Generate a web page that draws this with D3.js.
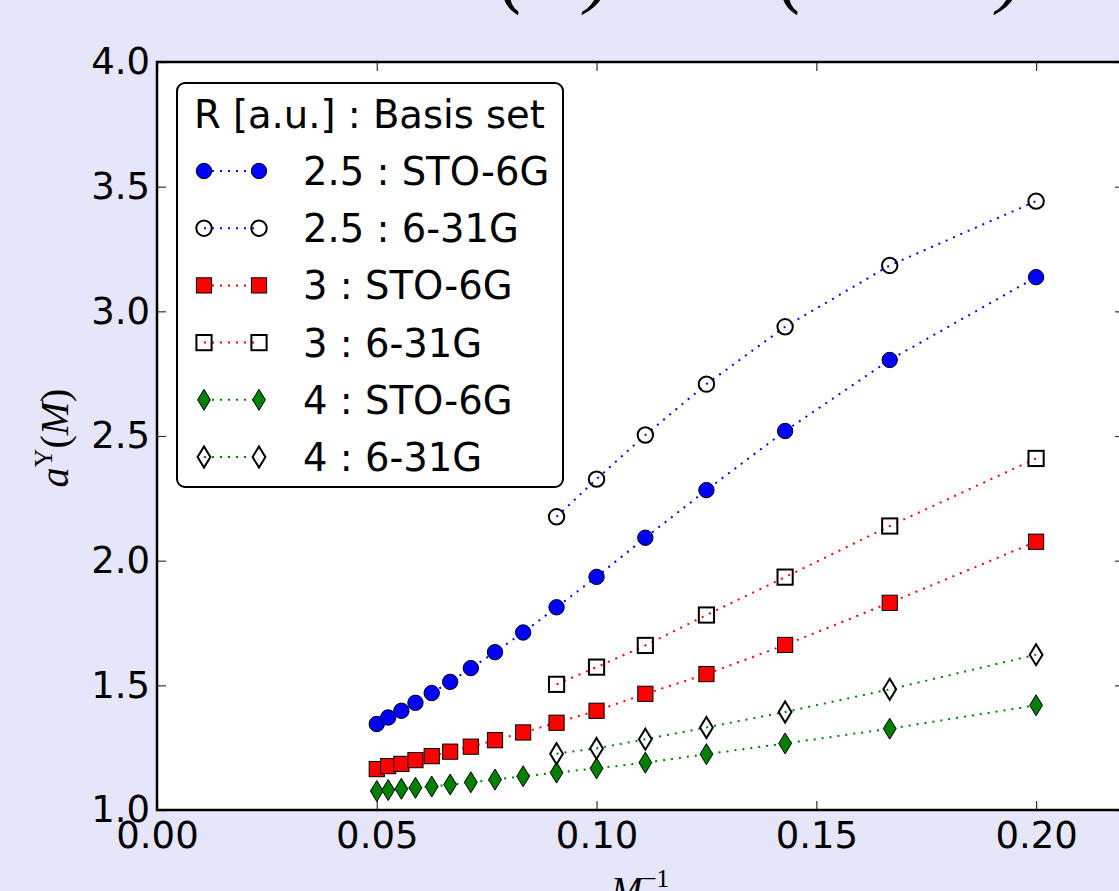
<!DOCTYPE html>
<html>
<head>
<meta charset="utf-8">
<script src="https://cdn.jsdelivr.net/npm/d3@7"></script>
<style>
  body { margin: 0; background: #e6e6fa; }
  svg { display: block; }
</style>
</head>
<body>
<svg id="chart" width="1119" height="891"></svg>
<script>
// Define SVG dimensions
const width = 1119;
const height = 891;

// x values: M^-1 for M = 20 ... 5 (long runs) and M = 11 ... 5 (short runs)
const invMLong = [0.0500, 0.0526, 0.0556, 0.0588, 0.0625, 0.0667, 0.0714, 0.0769,
                  0.0833, 0.0909, 0.1000, 0.1111, 0.1250, 0.1429, 0.1667, 0.2000];
const invMShort = [0.0909, 0.1000, 0.1111, 0.1250, 0.1429, 0.1667, 0.2000];

// a^Y(M) values
const r25Sto6g = [1.345, 1.371, 1.398, 1.430, 1.469, 1.514, 1.569, 1.633,
                  1.712, 1.813, 1.935, 2.092, 2.283, 2.520, 2.805, 3.137];
const r25631g = [2.176, 2.327, 2.504, 2.708, 2.938, 3.184, 3.442];
const r3Sto6g = [1.164, 1.176, 1.185, 1.200, 1.216, 1.234, 1.254, 1.280,
                 1.311, 1.350, 1.398, 1.466, 1.545, 1.662, 1.831, 2.076];
const r3631g = [1.504, 1.573, 1.660, 1.782, 1.934, 2.139, 2.410];
const r4Sto6g = [1.076, 1.080, 1.085, 1.089, 1.094, 1.102, 1.111, 1.122,
                 1.135, 1.150, 1.167, 1.190, 1.224, 1.267, 1.326, 1.420];
const r4631g = [1.226, 1.247, 1.284, 1.331, 1.393, 1.484, 1.623];

const seriesLabels = ["2.5 : STO-6G", "2.5 : 6-31G", "3 : STO-6G", "3 : 6-31G", "4 : STO-6G", "4 : 6-31G"];
const legendTitle = "R [a.u.] : Basis set";
const xTicks = [0.00, 0.05, 0.10, 0.15, 0.20];
const yTicks = [1.0, 1.5, 2.0, 2.5, 3.0, 3.5, 4.0];

// series table built from the arrays above
const series = [
  { label: seriesLabels[0], xs: invMLong, ys: r25Sto6g, color: "#0000ff", marker: "circle", open: false },
  { label: seriesLabels[1], xs: invMShort, ys: r25631g, color: "#0000ff", marker: "circle", open: true },
  { label: seriesLabels[2], xs: invMLong, ys: r3Sto6g, color: "#ff0000", marker: "square", open: false },
  { label: seriesLabels[3], xs: invMShort, ys: r3631g, color: "#ff0000", marker: "square", open: true },
  { label: seriesLabels[4], xs: invMLong, ys: r4Sto6g, color: "#008000", marker: "diamond", open: false },
  { label: seriesLabels[5], xs: invMShort, ys: r4631g, color: "#008000", marker: "diamond", open: true }
];

const svg = d3.select("#chart");

// scales
const x = d3.scaleLinear().domain([0, 0.22]).range([157, 1124]);
const y = d3.scaleLinear().domain([1, 4]).range([810, 62]);

// title (cut off by the top of the frame, only paren tails show)
const title = svg.append("text")
  .attr("y", -2)
  .style("font-family", "'Liberation Serif', serif")
  .style("font-style", "italic")
  .style("font-size", "80px")
  .attr("fill", "#000");
title.append("tspan").attr("x", 495).attr("text-anchor", "end").text("a");
title.append("tspan").attr("x", 500).attr("textLength", 112).attr("lengthAdjust", "spacing").text("(M)");
title.append("tspan").attr("x", 640).text("vs.");
title.append("tspan").attr("x", 779).attr("textLength", 245).attr("lengthAdjust", "spacing").text("(M → ∞)");

// plot background
svg.append("rect")
  .attr("x", x(0))
  .attr("y", y(4))
  .attr("width", x(0.22) - x(0))
  .attr("height", y(1) - y(4))
  .attr("fill", "#ffffff");

// axes
const fontSans = "'DejaVu Sans', sans-serif";

const xAxis = svg.append("g")
  .attr("transform", `translate(0,${y(1)})`)
  .call(d3.axisBottom(x).tickValues(xTicks).tickFormat(d3.format(".2f"))
    .tickSizeInner(-9).tickSizeOuter(0).tickPadding(12));

const xAxisTop = svg.append("g")
  .attr("transform", `translate(0,${y(4)})`)
  .call(d3.axisTop(x).tickValues(xTicks).tickFormat("")
    .tickSizeInner(-9).tickSizeOuter(0));

const yAxis = svg.append("g")
  .attr("transform", `translate(${x(0)},0)`)
  .call(d3.axisLeft(y).tickValues(yTicks).tickFormat(d3.format(".1f"))
    .tickSizeInner(-9).tickSizeOuter(0).tickPadding(7));

const yAxisRight = svg.append("g")
  .attr("transform", `translate(${x(0.22)},0)`)
  .call(d3.axisRight(y).tickValues(yTicks).tickFormat("")
    .tickSizeInner(-9).tickSizeOuter(0));

[xAxis, xAxisTop, yAxis, yAxisRight].forEach(g => {
  g.select(".domain").remove();
  g.selectAll(".tick line").attr("stroke", "#333").attr("stroke-width", 1.2);
  g.selectAll(".tick text")
    .attr("fill", "#000")
    .style("font-family", fontSans)
    .style("font-size", "37px");
});

// marker helper
function drawMarker(g, s) {
  const fill = s.open ? "none" : s.color;
  const sw = s.open ? 2 : 1;
  if (s.marker === "circle") {
    g.append("circle").attr("r", 7.7)
      .attr("fill", fill).attr("stroke", "#000").attr("stroke-width", sw);
  } else if (s.marker === "square") {
    g.append("rect").attr("x", -7.6).attr("y", -7.6).attr("width", 15.2).attr("height", 15.2)
      .attr("fill", fill).attr("stroke", "#000").attr("stroke-width", sw);
  } else {
    g.append("path").attr("d", "M0,-10.5L6.4,0L0,10.5L-6.4,0Z")
      .attr("fill", fill).attr("stroke", "#000").attr("stroke-width", sw);
  }
}

// data series
const line = d3.line()
  .x(d => x(d[0]))
  .y(d => y(d[1]));

series.forEach(s => {
  const pts = s.xs.map((v, i) => [v, s.ys[i]]);
  const g = svg.append("g").attr("class", "series");
  g.append("path")
    .datum(pts)
    .attr("d", line)
    .attr("fill", "none")
    .attr("stroke", s.color)
    .attr("stroke-width", 2)
    .attr("stroke-dasharray", "2,6");
  g.selectAll(".pt")
    .data(pts)
    .enter()
    .append("g")
    .attr("class", "pt")
    .attr("transform", d => `translate(${x(d[0])},${y(d[1])})`)
    .each(function () { drawMarker(d3.select(this), s); });
});

// spines
svg.append("rect")
  .attr("x", x(0))
  .attr("y", y(4))
  .attr("width", x(0.22) - x(0))
  .attr("height", y(1) - y(4))
  .attr("fill", "none")
  .attr("stroke", "#000")
  .attr("stroke-width", 2.5);

// axis labels
const yLabel = svg.append("text")
  .attr("transform", "translate(68,438) rotate(-90)")
  .attr("text-anchor", "middle")
  .style("font-family", "'Liberation Serif', serif")
  .style("font-size", "40px")
  .attr("fill", "#000");
yLabel.append("tspan").style("font-style", "italic").text("a");
yLabel.append("tspan").attr("dy", -16).style("font-size", "26px").text("Υ");
yLabel.append("tspan").attr("dy", 16).text("(");
yLabel.append("tspan").style("font-style", "italic").text("M");
yLabel.append("tspan").text(")");

const xLabel = svg.append("text")
  .attr("x", 640)
  .attr("y", 903)
  .attr("text-anchor", "middle")
  .style("font-family", "'Liberation Serif', serif")
  .style("font-size", "38px")
  .attr("fill", "#000");
xLabel.append("tspan").style("font-style", "italic").text("M");
xLabel.append("tspan").attr("dy", -16).style("font-size", "25px").text("−1");

// legend
const legend = svg.append("g").attr("class", "legend");
legend.append("rect")
  .attr("x", 177).attr("y", 83)
  .attr("width", 386).attr("height", 404)
  .attr("rx", 8)
  .attr("fill", "#fff")
  .attr("stroke", "#000")
  .attr("stroke-width", 2);
legend.append("text")
  .attr("x", 194).attr("y", 128)
  .style("font-family", fontSans)
  .style("font-size", "38.5px")
  .attr("fill", "#000")
  .text(legendTitle);

series.forEach((s, i) => {
  const cy = 171 + i * 57.2;
  const row = legend.append("g").attr("transform", `translate(0,${cy})`);
  row.append("line")
    .attr("x1", 204).attr("x2", 259)
    .attr("stroke", s.color)
    .attr("stroke-width", 2)
    .attr("stroke-dasharray", "2,6");
  drawMarker(row.append("g").attr("transform", "translate(204,0)"), s);
  drawMarker(row.append("g").attr("transform", "translate(259,0)"), s);
  row.append("text")
    .attr("x", 303).attr("y", 14)
    .style("font-family", fontSans)
    .style("font-size", "38.5px")
    .attr("fill", "#000")
    .text(s.label);
});
</script>
</body>
</html>
